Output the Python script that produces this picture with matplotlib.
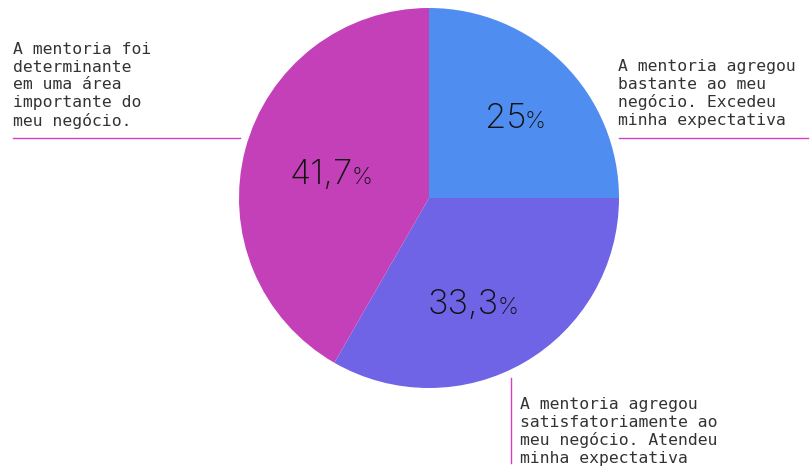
import matplotlib
matplotlib.use("Agg")
import matplotlib.pyplot as plt

categories = [
    "A mentoria agregou\nbastante ao meu\nnegócio. Excedeu\nminha expectativa",
    "A mentoria agregou\nsatisfatoriamente ao\nmeu negócio. Atendeu\nminha expectativa",
    "A mentoria foi\ndeterminante\nem uma área\nimportante do\nmeu negócio.",
]
values = [25.0, 33.3, 41.7]
value_labels = ["25", "33,3", "41,7"]
colors = ["#4f8df0", "#6f63e6", "#c440b9"]

W, H = 812, 467
fig = plt.figure(figsize=(W / 100, H / 100), dpi=100)
ax = fig.add_axes([0, 0, 1, 1])

cx, cy, r = 429, H - 198, 190
ax.pie(values, colors=colors, startangle=90, counterclock=False,
       center=(cx, cy), radius=r, frame=True,
       wedgeprops=dict(linewidth=0))
ax.set_xlim(0, W)
ax.set_ylim(0, H)
ax.set_aspect("equal")
ax.axis("off")

num_font = "Inter"
cat_font = "DejaVu Sans Mono"
text_color = "#333333"
line_color = "#d63fc4"

# percentage labels: big number followed by a smaller percent sign
label_pos = [(485, H - 128), (428, H - 314), (290, H - 184)]
renderer = fig.canvas.get_renderer()
for (x, y), lab in zip(label_pos, value_labels):
    t = ax.text(x, y, lab, fontsize=25, family=num_font, fontweight="light",
                color="#111111", ha="left", va="baseline")
    bb = t.get_window_extent(renderer=renderer)
    x2 = ax.transData.inverted().transform((bb.x1, bb.y0))[0]
    ax.text(x2 - 2, y, "%", fontsize=17, family=num_font, fontweight="light",
            color="#111111", ha="left", va="baseline")

# category annotations with accent lines
cat_kw = dict(fontsize=11.8, family=cat_font, color=text_color,
              ha="left", va="top", linespacing=1.22)
ax.text(618, H - 59, categories[0], **cat_kw)
ax.plot([619, 808], [H - 138, H - 138], color=line_color, lw=1)

ax.text(520, H - 397, categories[1], **cat_kw)
ax.plot([511, 511], [H - 378, H - 463], color=line_color, lw=1)

ax.text(13, H - 42, categories[2], **cat_kw)
ax.plot([13, 240], [H - 138, H - 138], color=line_color, lw=1)

fig.savefig("out.png", dpi=100)
